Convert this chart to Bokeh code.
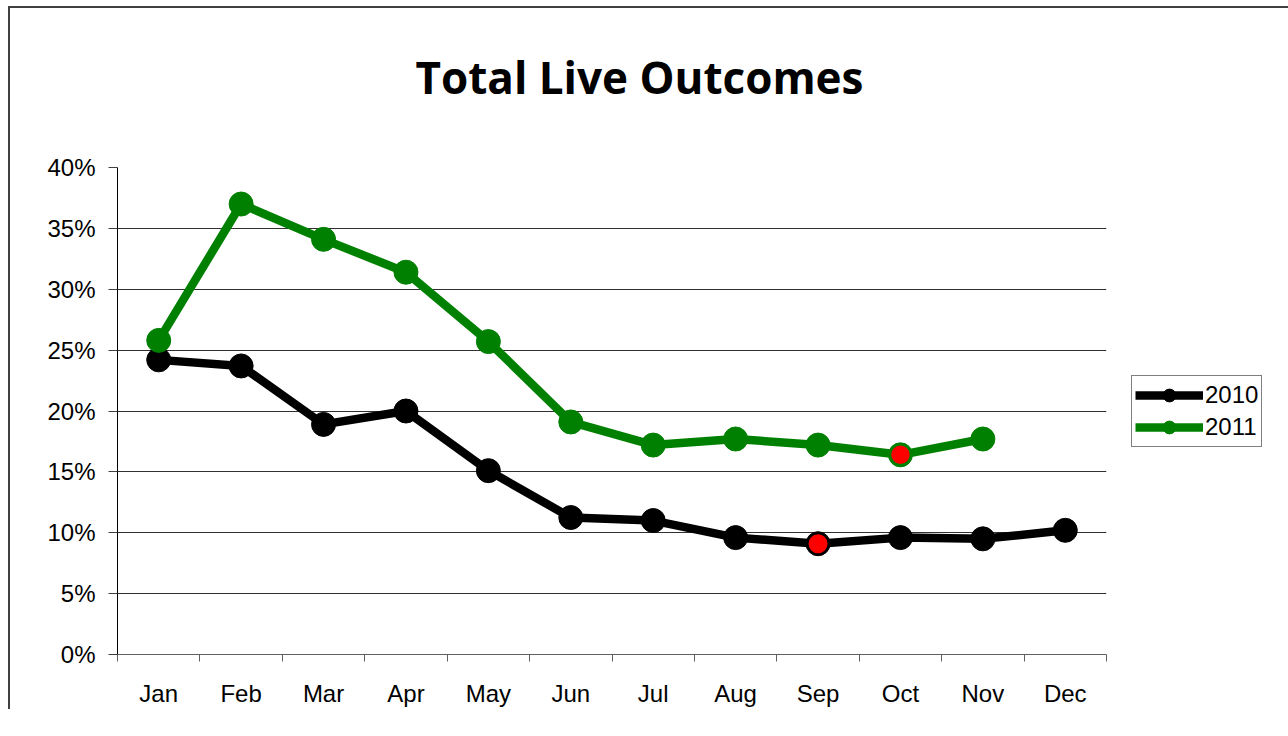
from bokeh.plotting import figure
from bokeh.models import (FixedTicker, PrintfTickFormatter, Legend, LegendItem,
                          Range1d, Title)
from bokeh.embed import file_html
from bokeh.resources import INLINE

months = ["Jan", "Feb", "Mar", "Apr", "May", "Jun", "Jul", "Aug", "Sep", "Oct", "Nov", "Dec"]
y2010 = [24.2, 23.7, 18.9, 20.0, 15.1, 11.25, 11.0, 9.6, 9.1, 9.6, 9.5, 10.2]
y2011 = [25.8, 37.0, 34.1, 31.4, 25.7, 19.1, 17.2, 17.7, 17.2, 16.4, 17.7]
highlight_2010 = ["Sep"]
highlight_2011 = ["Oct"]
y_ticks = [0, 5, 10, 15, 20, 25, 30, 35, 40]

x2010 = [i + 0.5 for i in range(len(y2010))]
x2011 = [i + 0.5 for i in range(len(y2011))]

p = figure(width=1268, height=718, output_backend="svg", toolbar_location=None,
           x_range=Range1d(0, 12), y_range=Range1d(0, 40),
           min_border_left=107, min_border_top=158, min_border_right=172,
           frame_width=989, frame_height=487)
p.styles = {"border-left": "2px solid #404040", "border-top": "2px solid #404040",
            "margin-left": "8px", "margin-top": "6px"}
p.outline_line_color = None
p.background_fill_color = "white"
p.border_fill_color = "white"

p.title = Title(text="Total Live Outcomes", align="left", vertical_align="top",
                text_font="Open Sans", text_font_size="44px", text_font_style="bold",
                text_color="black", standoff=76, offset=298)
# thin invisible spacer between title and plot area
p.add_layout(Title(text=" ", text_font_size="1px", text_color="white", standoff=18), "above")

# axes
p.xaxis.ticker = FixedTicker(ticks=[i + 0.5 for i in range(12)],
                             minor_ticks=list(range(13)))
p.xaxis.major_label_overrides = {i + 0.5: m for i, m in enumerate(months)}
p.xaxis.major_tick_out = 0
p.xaxis.major_tick_in = 0
p.xaxis.minor_tick_out = 7
p.xaxis.minor_tick_in = 0
p.xaxis.minor_tick_line_color = "#606060"
p.xaxis.axis_line_color = "#606060"
p.xaxis.major_label_standoff = 18
p.xaxis.major_label_text_font = "Liberation Sans"
p.xaxis.major_label_text_font_size = "24px"
p.xaxis.major_label_text_color = "black"

p.yaxis.ticker = FixedTicker(ticks=y_ticks)
p.yaxis.formatter = PrintfTickFormatter(format="%d%%")
p.yaxis.major_tick_out = 9
p.yaxis.major_tick_in = 0
p.yaxis.minor_tick_out = 0
p.yaxis.minor_tick_in = 0
p.yaxis.axis_line_color = "black"
p.yaxis.major_tick_line_color = "#404040"
p.yaxis.major_label_standoff = 13
p.yaxis.major_label_text_font = "Liberation Sans"
p.yaxis.major_label_text_font_size = "24px"
p.yaxis.major_label_text_color = "black"

p.xgrid.grid_line_color = None
p.ygrid.ticker = FixedTicker(ticks=y_ticks)
p.ygrid.grid_line_color = "#303030"
p.ygrid.grid_line_width = 1

# series
l1 = p.line(x2010, y2010, line_color="black", line_width=8.5)
s1 = p.scatter(x2010, y2010, size=24, fill_color="black", line_color="black")
l2 = p.line(x2011, y2011, line_color="#008000", line_width=8.5)
s2 = p.scatter(x2011, y2011, size=24, fill_color="#008000", line_color="#008000")

hx1 = [x2010[months.index(m)] for m in highlight_2010]
hy1 = [y2010[months.index(m)] for m in highlight_2010]
hx2 = [x2011[months.index(m)] for m in highlight_2011]
hy2 = [y2011[months.index(m)] for m in highlight_2011]
p.scatter(hx1, hy1, size=21, fill_color="red", line_color="black", line_width=2)
p.scatter(hx2, hy2, size=21, fill_color="red", line_color="#008000", line_width=2.5)

legend = Legend(items=[LegendItem(label="2010", renderers=[l1, s1]),
                       LegendItem(label="2011", renderers=[l2, s2])],
                location=(25, 207), orientation="vertical",
                border_line_color="black", border_line_width=1,
                background_fill_color="white", background_fill_alpha=1,
                label_text_font="Liberation Sans", label_text_font_size="24px",
                label_text_color="black",
                glyph_width=68, glyph_height=32, label_standoff=2,
                padding=3, spacing=0, margin=0, label_height=32)
p.add_layout(legend, "right")

open("out.html", "w").write(file_html(p, INLINE))
